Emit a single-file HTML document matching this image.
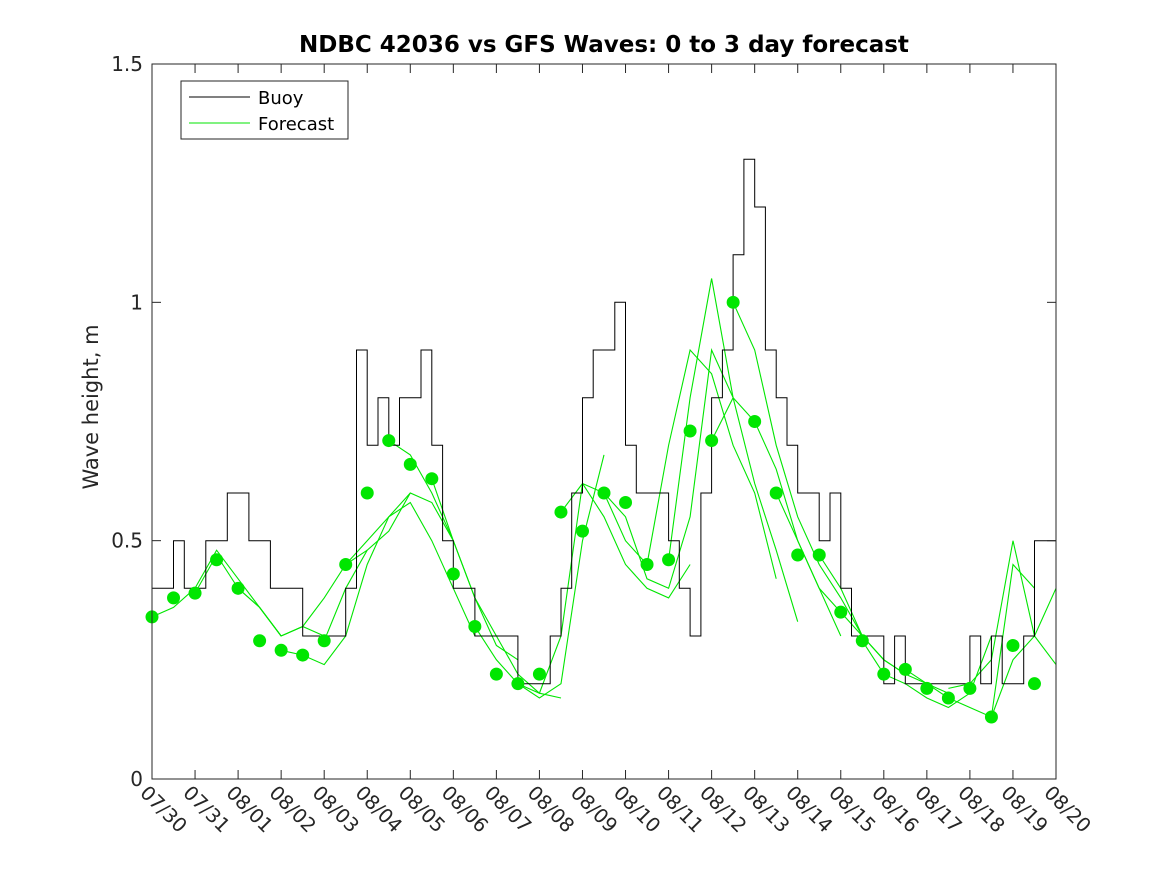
<!DOCTYPE html>
<html><head><meta charset="utf-8"><style>
html,body{margin:0;padding:0;background:#fff;}
svg{display:block;font-family:"DejaVu Sans","Liberation Sans",sans-serif;}
</style></head><body>
<svg id="chart" width="1167" height="875" viewBox="0 0 1167 875">
<rect x="0" y="0" width="1167" height="875" fill="#fff"/>
<text x="604" y="52" text-anchor="middle" font-size="23" font-weight="bold" fill="#000">NDBC 42036 vs GFS Waves: 0 to 3 day forecast</text>
<text transform="translate(98,407) rotate(-90)" text-anchor="middle" font-size="21" fill="#262626">Wave height, m</text>
<g id="plot"></g>
<g id="axes"></g>
<g>
<rect x="181" y="81" width="167" height="58" fill="#fff" stroke="#262626" stroke-width="1"/>
<line x1="189" y1="97" x2="250" y2="97" stroke="#000" stroke-width="1"/>
<text x="258" y="104" font-size="18" fill="#000">Buoy</text>
<line x1="189" y1="123" x2="250" y2="123" stroke="#00e600" stroke-width="1"/>
<text x="258" y="130" font-size="18" fill="#000">Forecast</text>
</g>
</svg>
<script>
const xTickLabels=["07/30","07/31","08/01","08/02","08/03","08/04","08/05","08/06","08/07","08/08","08/09","08/10","08/11","08/12","08/13","08/14","08/15","08/16","08/17","08/18","08/19","08/20"];
const yTickValues=[0,0.5,1,1.5];
const yTickLabels=["0","0.5","1","1.5"];
// buoy, 6-hourly from 07/30 00Z
const buoy=[0.4,0.4,0.5,0.4, 0.4,0.5,0.5,0.6, 0.6,0.5,0.5,0.4, 0.4,0.4,0.3,0.3, 0.3,0.3,0.4,0.9,
 0.7,0.8,0.7,0.8, 0.8,0.9,0.7,0.5, 0.4,0.4,0.3,0.3, 0.3,0.3,0.2,0.2, 0.2,0.3,0.4,0.6,
 0.8,0.9,0.9,1.0, 0.7,0.6,0.6,0.6, 0.5,0.4,0.3,0.6, 0.8,0.9,1.1,1.3, 1.2,0.9,0.8,0.7,
 0.6,0.6,0.5,0.6, 0.4,0.3,0.3,0.3, 0.2,0.3,0.2,0.2, 0.2,0.2,0.2,0.2, 0.3,0.2,0.3,0.2,
 0.2,0.3,0.5,0.5,0.5];
// analysis dots, 12-hourly
const analysis=[0.34,0.38,0.39,0.46,0.40,0.29,0.27,0.26,0.29,0.45,0.60,0.71,0.66,0.63,0.43,0.32,0.22,0.20,0.22,0.56,0.52,0.60,0.58,0.45,0.46,0.73,0.71,1.00,0.75,0.60,0.47,0.47,0.35,0.29,0.22,0.23,0.19,0.17,0.19,0.13,0.28,0.20];
// forecast cycles: start index (12h units), values every 12h
const fcStart=[0,2,4,6,8,9,11,13,15,17,19,21,23,24,26,27,29,31,33,35,37,39];
const fcValues=[
[0.34,0.36,0.40,0.48,0.42,0.36,0.30],
[0.39,0.47,0.40,0.36,0.30,0.32,0.30],
[0.40,0.36,0.30,0.32,0.38,0.45,0.48],
[0.27,0.26,0.24,0.30,0.45,0.55,0.60],
[0.29,0.40,0.48,0.52,0.60,0.58,0.50],
[0.45,0.50,0.55,0.58,0.50,0.40,0.30],
[0.71,0.68,0.60,0.50,0.38,0.28,0.25],
[0.63,0.50,0.38,0.30,0.22,0.18,0.17],
[0.32,0.25,0.20,0.17,0.20,0.50,0.68],
[0.20,0.18,0.30,0.62,0.60,0.50,0.45],
[0.56,0.62,0.55,0.45,0.40,0.38,0.45],
[0.60,0.55,0.42,0.40,0.55,0.90,0.80],
[0.45,0.70,0.90,0.85,0.70,0.60,0.42],
[0.46,0.80,1.05,0.80,0.62,0.48,0.33],
[0.71,0.80,0.75,0.65,0.50,0.40,0.30],
[1.00,0.90,0.70,0.55,0.45,0.38,0.30],
[0.60,0.50,0.40,0.35,0.30,0.25,0.22],
[0.47,0.40,0.30,0.25,0.22,0.20,0.18],
[0.29,0.22,0.20,0.17,0.15,0.18,0.30],
[0.23,0.20,0.17,0.15,0.13,0.45,0.40],
[0.19,0.20,0.25,0.50,0.30,0.24,0.24],
[0.13,0.25,0.30,0.40]];

const L=152,R=1056,T=64,B=779,NS="http://www.w3.org/2000/svg";
const days=21,yMax=1.5;
const xs=d=>L+(R-L)*d/days;
const ys=v=>B-(B-T)*v/yMax;
const plot=document.getElementById('plot'),axes=document.getElementById('axes');
function mk(tag,attrs,parent){const e=document.createElementNS(NS,tag);for(const k in attrs)e.setAttribute(k,attrs[k]);parent.appendChild(e);return e;}

fcValues.forEach((vals,i)=>{
  const pts=vals.map((v,j)=>xs(Math.min((fcStart[i]+j)*0.5,days)).toFixed(1)+","+ys(v).toFixed(1)).join(" ");
  const p=mk('polyline',{points:pts,fill:'none',stroke:'#00e600','stroke-width':1.1},plot);
  
  
});
let d="";
buoy.forEach((v,i)=>{const x0=xs(i*0.25),x1=xs(Math.min((i+1)*0.25,days));d+=(i?"L":"M")+x0.toFixed(1)+","+ys(v).toFixed(1)+"L"+x1.toFixed(1)+","+ys(v).toFixed(1);});
const bp=mk('path',{d:d,fill:'none',stroke:'#000','stroke-width':1},plot);


analysis.forEach((v,i)=>{
  const c=mk('circle',{cx:xs(i*0.5),cy:ys(v),r:6.5,fill:'#00e600'},plot);
  
  
});
const box=mk('rect',{x:L,y:T,width:R-L,height:B-T,fill:'none',stroke:'#262626','stroke-width':1},axes);


xTickLabels.forEach((lab,i)=>{
  const x=xs(i);
  mk('line',{x1:x,y1:B,x2:x,y2:B-9,stroke:'#262626'},axes);
  mk('line',{x1:x,y1:T,x2:x,y2:T+9,stroke:'#262626'},axes);
  const t=mk('text',{transform:`translate(${x-13},${B+15}) rotate(45)`,'font-size':19.5,fill:'#262626'},axes);
  t.textContent=lab;
  
  
});
yTickValues.forEach((v,i)=>{
  const y=ys(v);
  mk('line',{x1:L,y1:y,x2:L+9,y2:y,stroke:'#262626'},axes);
  mk('line',{x1:R,y1:y,x2:R-9,y2:y,stroke:'#262626'},axes);
  const t=mk('text',{x:L-9,y:y+7,'text-anchor':'end','font-size':20,fill:'#262626'},axes);
  t.textContent=yTickLabels[i];
  
  
});
</script>
</body></html>
